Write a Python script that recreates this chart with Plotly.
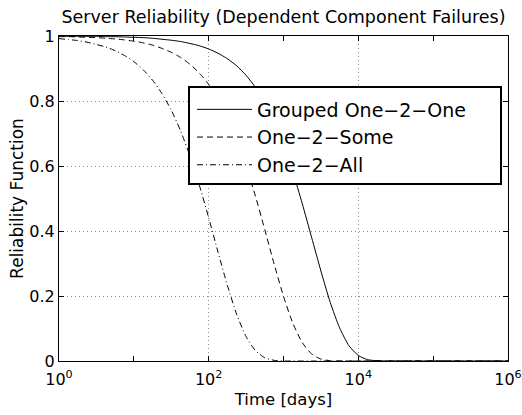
import plotly.graph_objects as go

# ---- data ----
time_days = [1, 1.334, 1.778, 2.371, 3.162, 4.217, 5.623, 7.499,
             10, 13.34, 17.78, 23.71, 31.62, 42.17, 56.23, 74.99,
             100, 133.4, 177.8, 237.1, 316.2, 421.7, 562.3, 749.9,
             1000, 1334, 1778, 2371, 3162, 4217, 5623, 7499,
             10000, 13335, 17783, 23714, 31623, 100000, 316228, 1000000]

grouped_one2one = [1.000, 0.999, 0.999, 0.999, 0.999, 0.998, 0.998, 0.997,
                   0.996, 0.995, 0.993, 0.990, 0.987, 0.983, 0.977, 0.970,
                   0.960, 0.947, 0.930, 0.908, 0.879, 0.842, 0.796, 0.737,
                   0.666, 0.581, 0.485, 0.381, 0.277, 0.180, 0.102, 0.047,
                   0.017, 0.004, 0.001, 0.0, 0.0, 0.0, 0.0, 0.0]

one2some = [0.998, 0.998, 0.997, 0.996, 0.995, 0.993, 0.991, 0.988,
            0.984, 0.979, 0.972, 0.962, 0.950, 0.934, 0.913, 0.886,
            0.851, 0.806, 0.751, 0.682, 0.600, 0.507, 0.404, 0.298,
            0.199, 0.116, 0.057, 0.022, 0.006, 0.001, 0.0, 0.0,
            0.0, 0.0, 0.0, 0.0, 0.0, 0.0, 0.0, 0.0]

one2all = [0.992, 0.989, 0.986, 0.981, 0.974, 0.966, 0.955, 0.940,
           0.921, 0.896, 0.864, 0.823, 0.772, 0.708, 0.631, 0.541,
           0.441, 0.335, 0.233, 0.143, 0.075, 0.032, 0.010, 0.002,
           0.0, 0.0, 0.0, 0.0, 0.0, 0.0, 0.0, 0.0,
           0.0, 0.0, 0.0, 0.0, 0.0, 0.0, 0.0, 0.0]

series_names = ["Grouped One\u22122\u2212One", "One\u22122\u2212Some", "One\u22122\u2212All"]

x_major_ticks = [1, 100, 10000, 1000000]
x_major_labels = ["10<sup>0</sup>", "10<sup>2</sup>", "10<sup>4</sup>", "10<sup>6</sup>"]
x_minor_ticks = [10, 1000, 100000]
y_ticks = [0, 0.2, 0.4, 0.6, 0.8, 1]
y_labels = ["0", "0.2", "0.4", "0.6", "0.8", "1"]

FONT = "DejaVu Sans"
W, H = 522, 415
ML, MR, MT, MB = 59, 14, 36, 54

fig = go.Figure()
styles = ["solid", "6px,4px", "6px,3px,1px,3px"]
for name, vals, dash in zip(series_names, [grouped_one2one, one2some, one2all], styles):
    fig.add_trace(go.Scatter(
        x=time_days, y=vals, mode="lines", name=name,
        line=dict(color="black", width=1, dash=dash, shape="spline", smoothing=0.6),
    ))

# legend frame (decoration), in paper coordinates
pw, ph = W - ML - MR, H - MT - MB
def px2paper_x(px):
    return (px - ML) / pw
def px2paper_y(py):
    return (H - MB - py) / ph

fig.add_shape(type="rect", xref="paper", yref="paper",
              x0=px2paper_x(189), x1=px2paper_x(501),
              y0=px2paper_y(184), y1=px2paper_y(87),
              line=dict(color="black", width=2), fillcolor="white", layer="above")

axis_common = dict(
    showline=True, linecolor="black", linewidth=1, mirror="ticks",
    ticks="inside", ticklen=5, tickcolor="black", tickwidth=1,
    showgrid=True, gridcolor="#8c8c8c", gridwidth=1, griddash="1px,3px",
    zeroline=False,
    tickfont=dict(family=FONT, size=16, color="black"),
)

fig.update_layout(
    width=W, height=H,
    margin=dict(l=ML, r=MR, t=MT, b=MB, autoexpand=False),
    paper_bgcolor="white", plot_bgcolor="white",
    font=dict(family=FONT, color="black"),
    title=dict(text="Server Reliability (Dependent Component Failures)",
               font=dict(family=FONT, size=17.5, color="black"),
               x=px2paper_x(283.5), xref="paper", xanchor="center",
               y=1 - 17 / H, yref="container", yanchor="middle"),
    xaxis=dict(type="log", range=[0, 6], tickvals=x_major_ticks, ticktext=x_major_labels,
               ticklabelstandoff=4,
               minor=dict(tickvals=x_minor_ticks, ticks="inside", ticklen=5,
                          tickcolor="black", showgrid=False),
               title=dict(text="Time [days]", font=dict(family=FONT, size=16.5), standoff=5),
               **axis_common),
    yaxis=dict(range=[0, 1], tickvals=y_ticks, ticktext=y_labels,
               title=dict(text="Reliability Function", font=dict(family=FONT, size=17), standoff=1),
               **axis_common),
    legend=dict(x=px2paper_x(192), xanchor="left", y=px2paper_y(137.5), yanchor="middle",
                bgcolor="rgba(0,0,0,0)", borderwidth=0,
                font=dict(family=FONT, size=19, color="black"),
                itemwidth=55, tracegroupgap=0),
    showlegend=True,
)

fig.write_html("out.html", config={"displayModeBar": False},
               post_script="document.body.style.margin='0';document.body.style.overflow='hidden';")
